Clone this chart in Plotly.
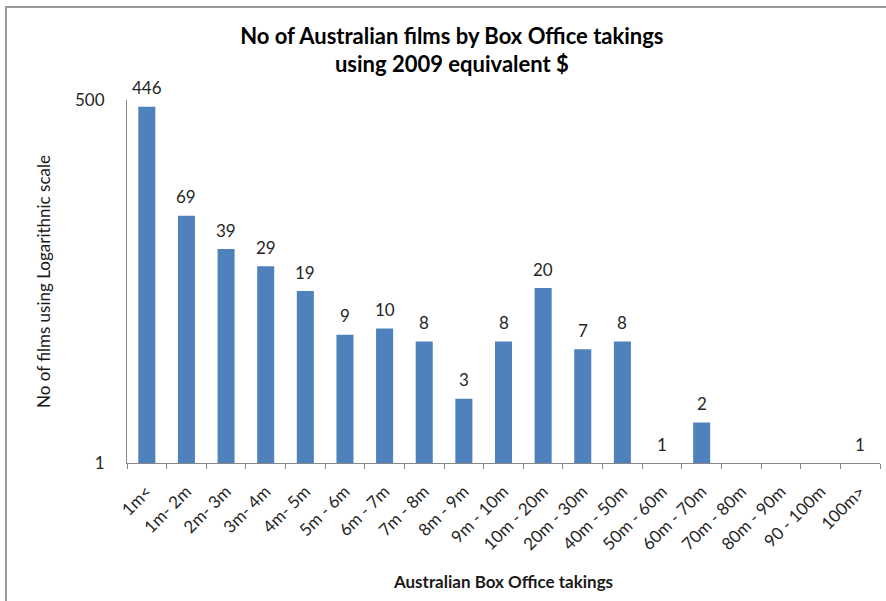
import math
import plotly.graph_objects as go

categories = ["1m<", "1m- 2m", "2m- 3m", "3m- 4m", "4m- 5m", "5m - 6m", "6m - 7m",
              "7m - 8m", "8m - 9m", "9m - 10m", "10m - 20m", "20m - 30m", "40m - 50m",
              "50m - 60m", "60m - 70m", "70m - 80m", "80m - 90m", "90 - 100m", "100m>"]
films = [446, 69, 39, 29, 19, 9, 10, 8, 3, 8, 20, 7, 8, 1, 2, None, None, None, 1]
y_ticks = [1, 500]

FONT = "Lato, 'Open Sans', sans-serif"

# plot area in pixels (for placing the outer frame)
W, H = 886, 601
L, R, T, B = 127, 6, 100, 138
pw, ph = W - L - R, H - T - B

fig = go.Figure(go.Bar(
    x=categories,
    y=films,
    marker_color="#4F81BD",
    marker_line_width=0,
    hoverinfo="x+y",
))

# value labels sit a bit higher above the bars than plotly's outside text
for cat, v in zip(categories, films):
    if v is None:
        continue
    fig.add_annotation(
        x=cat, y=math.log10(v), text=str(v), showarrow=False,
        yanchor="middle", yshift=19,
        font=dict(size=17, color="#262626", family=FONT),
    )

fig.update_layout(
    width=W, height=H,
    margin=dict(l=L, r=R, t=T, b=B),
    paper_bgcolor="white",
    plot_bgcolor="white",
    font=dict(family=FONT, color="black"),
    bargap=0.57,
    showlegend=False,
    title=dict(
        text="<b>No of Australian films by Box Office takings<br>using 2009 equivalent $</b>",
        x=0.51, xanchor="center", y=0.927, yanchor="top",
        font=dict(size=22, family=FONT, color="black"),
    ),
    xaxis=dict(
        title=dict(text="<b>Australian Box Office takings</b>", font=dict(size=17, color="#1a1a1a"),
                   standoff=23),
        automargin=False,
        tickangle=-45,
        tickfont=dict(size=17, color="#262626"),
        showline=True, linecolor="#868686", linewidth=1,
        ticks="outside", tickson="boundaries", ticklen=5, tickcolor="#868686",
        ticklabelstandoff=11,
        showgrid=False,
    ),
    yaxis=dict(
        type="log",
        range=[0, 2.699],
        tickvals=y_ticks,
        ticktext=[str(t) for t in y_ticks],
        tickfont=dict(size=17, color="#262626"),
        title=dict(text="No of films using Logarithnic scale", font=dict(size=17, color="#1a1a1a"),
                   standoff=20),
        automargin=False,
        showline=True, linecolor="#868686", linewidth=1,
        showgrid=False, zeroline=False,
        ticks="outside", ticklen=18, tickcolor="rgba(0,0,0,0)",
    ),
    shapes=[dict(
        type="rect", xref="paper", yref="paper",
        x0=(6 - L) / pw, x1=(W + 5 - L) / pw,
        y0=(H - B - (H + 5)) / ph, y1=(H - B - 7) / ph,
        line=dict(color="#9a9a9a", width=2),
        layer="below",
    )],
)

# drop the default 8px page margin so the figure sits at the window origin
fig.write_html("out.html", config={"displayModeBar": False},
               post_script="document.body.style.margin='0';")
